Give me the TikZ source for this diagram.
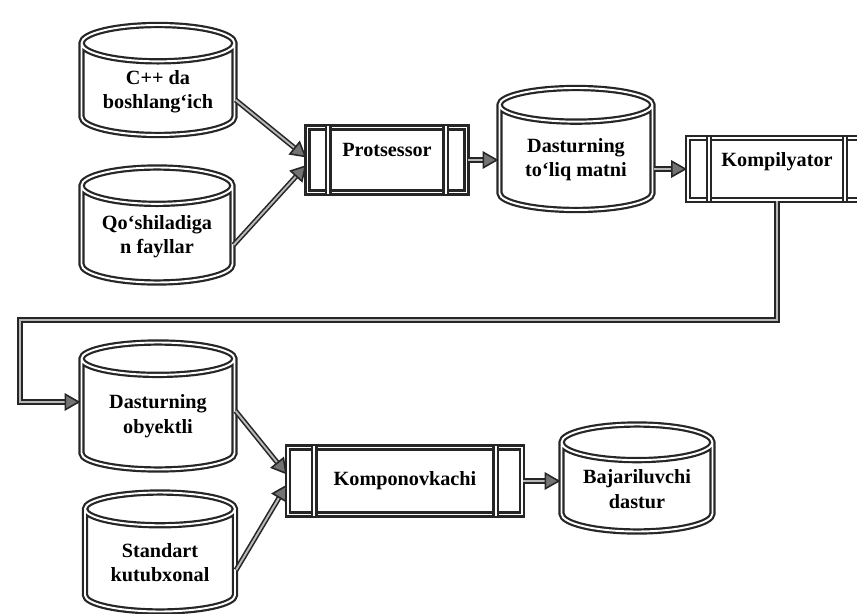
\documentclass[tikz,border=0pt]{standalone}
\usepackage{fontspec}
\setmainfont{Liberation Serif}
\usetikzlibrary{shapes.geometric,arrows.meta}

\begin{document}
\begin{tikzpicture}[x=0.02cm,y=-0.02cm,
    font=\bfseries\fontsize{11.5}{14}\selectfont,
    dbl/.style={draw=black!85,line width=1.25pt,double=white,double distance=1.1pt},
    db/.style={cylinder,shape border rotate=90,aspect=0.32,dbl,align=center,
               anchor=shape center,inner sep=1pt},
    proc/.style={rectangle,dbl,minimum height=1.3cm},
    raised/.style={text depth=0.4cm},
    arr/.style={draw=black!85,line width=0.9pt,double=gray!55,double distance=1.1pt,
                -{Triangle[length=9pt,width=10pt,fill=black!55]}}]
  \useasboundingbox (0,0) rectangle (857,614);

  % fayllar
  \node[db,minimum width=3.06cm,minimum height=2.2cm] (src) at (158,80) {C++ da\\boshlang`ich};
  \node[db,minimum width=3.02cm,minimum height=2.3cm] (inc) at (157,225) {Qo`shiladiga\\n fayllar};
  \node[db,minimum width=3.06cm,minimum height=2.44cm] (full) at (576,149) {Dasturning\\to`liq matni};
  \node[db,minimum width=3.06cm,minimum height=2.54cm] (obj) at (158,406) {Dasturning\\obyektli};
  \node[db,minimum width=3.0cm,minimum height=2.38cm] (lib) at (160,552) {Standart\\kutubxonal};
  \node[db,minimum width=3.02cm,minimum height=2.14cm] (exe) at (637,478) {Bajariluvchi\\dastur};

  % jarayonlar
  \node[proc,raised,minimum width=3.18cm] (prots) at (387,160) {Protsessor};
  \node[proc,raised,minimum width=3.56cm,minimum height=1.24cm] (kompil) at (777,169) {Kompilyator};
  \node[proc,minimum width=4.68cm,minimum height=1.34cm] (kompon) at (405,481) {Komponovkachi};
  \foreach \n/\w in {prots/0.44cm,kompil/0.44cm,kompon/0.55cm}{
    \draw[dbl] ([xshift=\w]\n.north west) -- ([xshift=\w]\n.south west);
    \draw[dbl] ([xshift=-\w]\n.north east) -- ([xshift=-\w]\n.south east);
  }

  % strelkalar
  \draw[arr] ([yshift=-0.4cm]src.shape center -| src.east) -- ([yshift=0.05cm]prots.west);
  \draw[arr] ([yshift=-0.4cm]inc.shape center -| inc.east) -- ([yshift=-0.1cm]prots.west);
  \draw[arr] (prots.east) -- (prots.east -| full.west);
  \draw[arr] (full.east |- kompil.west) -- (kompil.west);
  \coordinate (bend) at (20,320);
  \draw[arr] (kompil.south) |- (bend) |- ([yshift=0.08cm]obj.shape center -| obj.west);
  \draw[arr] ([yshift=-0.1cm]obj.shape center -| obj.east) -- ([yshift=0.13cm]kompon.west);
  \draw[arr] ([yshift=-0.36cm]lib.shape center -| lib.east) -- ([yshift=-0.07cm]kompon.west);
  \draw[arr] (kompon.east) -- (kompon.east -| exe.west);
\end{tikzpicture}
\end{document}
